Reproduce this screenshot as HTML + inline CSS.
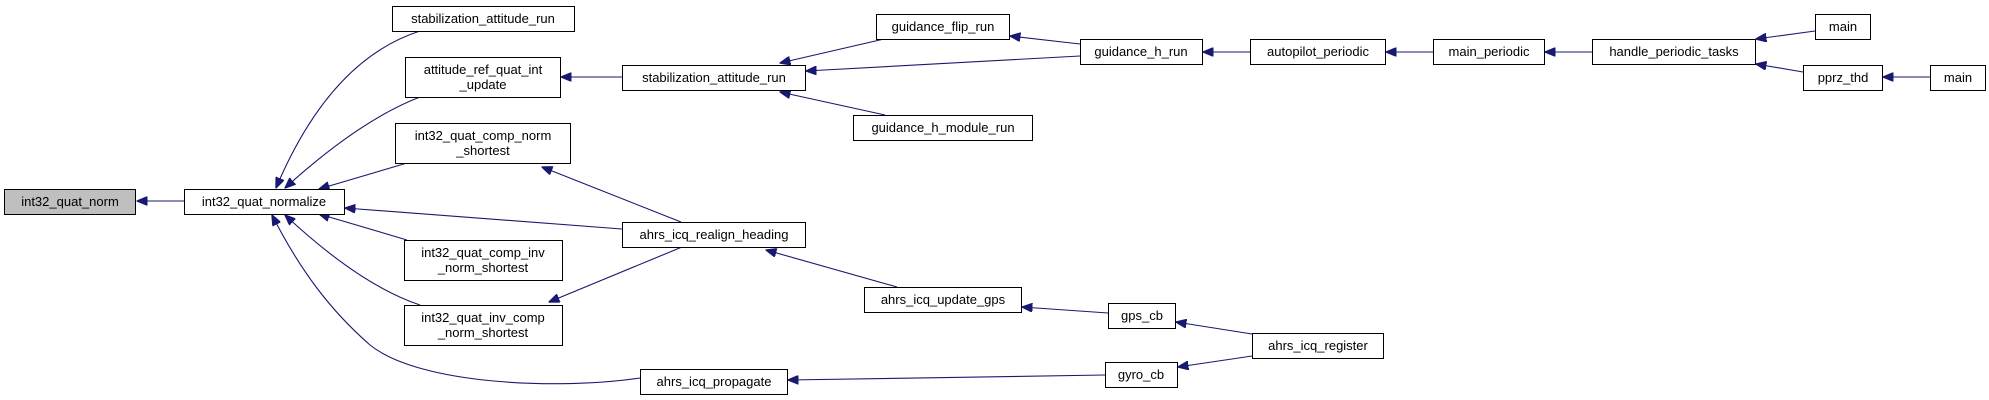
<!DOCTYPE html>
<html><head><meta charset="utf-8"><style>
html,body{margin:0;padding:0;background:#fff;}
svg{display:block;}
text{font-family:"Liberation Sans",Arial,sans-serif;font-size:13px;fill:#000;}
rect{fill:#fff;stroke:#000;stroke-width:1;}
path{fill:none;stroke:#191970;stroke-width:1.1;}
</style></head><body>
<svg width="1989" height="400" viewBox="0 0 1989 400" xmlns="http://www.w3.org/2000/svg">
<defs>
<marker id="a" markerWidth="11" markerHeight="9" refX="10.5" refY="4.5" orient="auto" markerUnits="userSpaceOnUse">
<polygon points="0,0 11,4.5 0,9" fill="#191970" stroke="#191970"/>
</marker>
</defs>
<g marker-end="url(#a)">
<path d="M184,201 L137,201"/>
<path d="M420,31 Q330,60 276,188"/>
<path d="M420,97 Q360,120 285,188"/>
<path d="M407,163 L319,189"/>
<path d="M622,229 L345,208"/>
<path d="M407,240 L319,214"/>
<path d="M420,305 Q360,285 285,215"/>
<path d="M640,378 C560,390 420,385 370,345 C330,310 300,270 272,215"/>
<path d="M622,77 L561,77"/>
<path d="M681,222 L542,167"/>
<path d="M682,247 L549,302"/>
<path d="M884,39 L780,63"/>
<path d="M1080,56 L806,71"/>
<path d="M885,115 L780,92"/>
<path d="M1080,44 L1010,36"/>
<path d="M1250,52 L1203,52"/>
<path d="M1433,52 L1386,52"/>
<path d="M1592,52 L1545,52"/>
<path d="M1815,31 L1756,39"/>
<path d="M1803,72 L1756,64"/>
<path d="M1930,77 L1883,77"/>
<path d="M897,287 L766,250"/>
<path d="M1108,313 L1022,307"/>
<path d="M1252,334 L1176,322"/>
<path d="M1252,356 L1178,367"/>
<path d="M1105,375 L788,380"/>
</g>
<g text-anchor="middle">
<rect x="4.5" y="189.5" width="131" height="25" style="fill:#bfbfbf"/><text x="70" y="206">int32_quat_norm</text>
<rect x="184.5" y="189.5" width="160" height="25"/><text x="264" y="206">int32_quat_normalize</text>
<rect x="392.5" y="6.5" width="182" height="25"/><text x="483" y="23">stabilization_attitude_run</text>
<rect x="405.5" y="57.5" width="155" height="40"/><text x="483" y="74">attitude_ref_quat_int</text><text x="483" y="89">_update</text>
<rect x="395.5" y="123.5" width="175" height="40"/><text x="483" y="140">int32_quat_comp_norm</text><text x="483" y="155">_shortest</text>
<rect x="404.5" y="240.5" width="158" height="40"/><text x="483" y="257">int32_quat_comp_inv</text><text x="483" y="272">_norm_shortest</text>
<rect x="404.5" y="305.5" width="158" height="40"/><text x="483" y="322">int32_quat_inv_comp</text><text x="483" y="337">_norm_shortest</text>
<rect x="622.5" y="65.5" width="183" height="25"/><text x="714" y="82">stabilization_attitude_run</text>
<rect x="876.5" y="14.5" width="133" height="25"/><text x="943" y="31">guidance_flip_run</text>
<rect x="853.5" y="115.5" width="179" height="25"/><text x="943" y="132">guidance_h_module_run</text>
<rect x="1080.5" y="39.5" width="122" height="25"/><text x="1141" y="56">guidance_h_run</text>
<rect x="1250.5" y="39.5" width="135" height="25"/><text x="1318" y="56">autopilot_periodic</text>
<rect x="1433.5" y="39.5" width="111" height="25"/><text x="1489" y="56">main_periodic</text>
<rect x="1592.5" y="39.5" width="163" height="25"/><text x="1674" y="56">handle_periodic_tasks</text>
<rect x="1815.5" y="14.5" width="55" height="25"/><text x="1843" y="31">main</text>
<rect x="1803.5" y="65.5" width="79" height="25"/><text x="1843" y="82">pprz_thd</text>
<rect x="1930.5" y="65.5" width="55" height="25"/><text x="1958" y="82">main</text>
<rect x="622.5" y="222.5" width="183" height="25"/><text x="714" y="239">ahrs_icq_realign_heading</text>
<rect x="864.5" y="287.5" width="157" height="25"/><text x="943" y="304">ahrs_icq_update_gps</text>
<rect x="1108.5" y="303.5" width="67" height="25"/><text x="1142" y="320">gps_cb</text>
<rect x="1105.5" y="362.5" width="72" height="25"/><text x="1141" y="379">gyro_cb</text>
<rect x="640.5" y="369.5" width="147" height="25"/><text x="714" y="386">ahrs_icq_propagate</text>
<rect x="1252.5" y="333.5" width="131" height="25"/><text x="1318" y="350">ahrs_icq_register</text>
</g>
</svg>
</body></html>
